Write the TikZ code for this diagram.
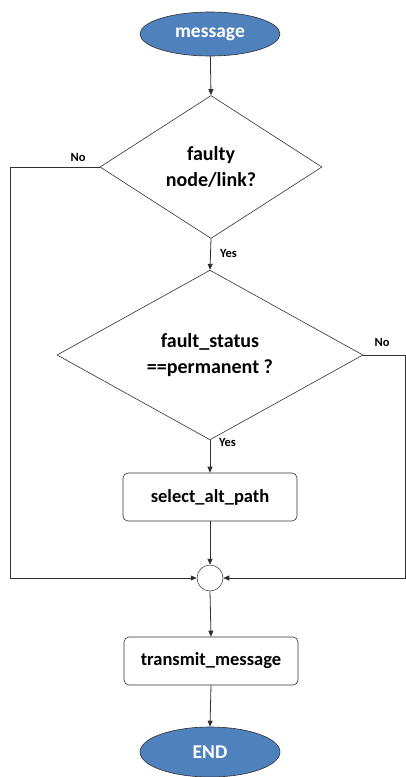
\documentclass[tikz,border=0pt]{standalone}
\usepackage{fontspec}
\setmainfont{Carlito}
\usetikzlibrary{shapes.geometric,arrows.meta}
\definecolor{termblue}{HTML}{4F81BD}
\definecolor{lineclr}{HTML}{303030}
\tikzset{
  terminal/.style={ellipse,draw=lineclr,line width=0.6pt,fill=termblue,text=white,
    font=\bfseries\fontsize{19.5}{22}\selectfont,minimum width=140pt,minimum height=44pt,inner sep=0pt},
  decision/.style={diamond,draw=lineclr,line width=0.6pt,align=center,inner sep=0pt,
    font=\bfseries\fontsize{20}{26.5}\selectfont},
  process/.style={rectangle,rounded corners=5pt,draw=lineclr,line width=0.6pt,
    font=\bfseries\fontsize{18.5}{22}\selectfont,minimum width=174pt,minimum height=48pt},
  junction/.style={circle,draw=lineclr,line width=0.5pt,minimum size=26pt,inner sep=0pt},
  flow/.style={draw=lineclr,line width=0.8pt,-{Triangle[length=6pt,width=5pt]}},
  lbl/.style={font=\bfseries\fontsize{12.5}{14}\selectfont,text=black,inner sep=0pt}
}
\begin{document}
\begin{tikzpicture}[x=1pt,y=-1pt]
\useasboundingbox (0,0) rectangle (406,777);
% nodes
\node[terminal] (msg) at (210,34) {message};
\node[decision,minimum width=222pt,minimum height=143pt] (faulty) at (211,167) {faulty\\node/link?};
\node[decision,minimum width=306pt,minimum height=144pt] (perm) at (210,355) {fault\_status\\==permanent ?};
\node[process] (alt) at (210,497) {select\_alt\_path};
\node[junction] (join) at (210,578) {};
\node[process] (tx) at (211,661) {transmit\_message};
\node[terminal,minimum height=50pt] (end) at (210,752) {END};
% bend points of the side branches
\coordinate (lt) at (10,167);
\coordinate (lb) at (10,578);
\coordinate (rt) at (405.5,355);
\coordinate (rb) at (405.5,578);
% connectors
\draw[flow] (msg) -- (faulty.north);
\draw[flow] (faulty.south) -- (perm.north);
\draw[flow] (perm.south) -- (alt.north);
\draw[flow] (alt.south) -- (join.north);
\draw[flow] (join.south) -- (tx.north);
\draw[flow] (tx.south) -- (end.north);
\draw[flow] (faulty.west) -- (lt) -- (lb) -- (join.west);
\draw[flow] (perm.east) -- (rt) -- (rb) -- (join.east);
% branch labels
\node[lbl,anchor=west] (yes1) at (220,253) {Yes};
\node[lbl,anchor=west] (yes2) at (219,442) {Yes};
\node[lbl] (no1) at (78,157) {No};
\node[lbl] (no2) at (382,342) {No};
\end{tikzpicture}
\end{document}
